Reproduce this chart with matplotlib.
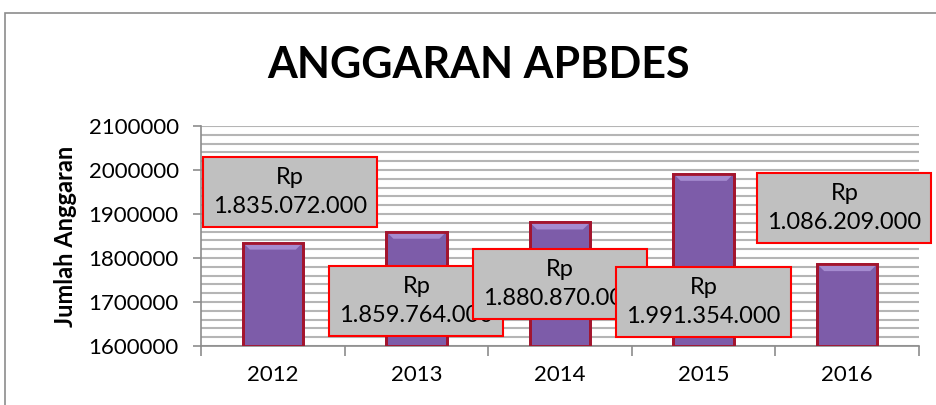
import numpy as np
import matplotlib.pyplot as plt
from matplotlib.patches import Rectangle, Polygon
from matplotlib.ticker import MultipleLocator, FuncFormatter

years = ['2012', '2013', '2014', '2015', '2016']
anggaran = [1835072, 1859764, 1880870, 1991354, 1786209]
labels = ['Rp\n1.835.072.000', 'Rp\n1.859.764.000', 'Rp\n1.880.870.000',
          'Rp\n1.991.354.000', 'Rp\n1.086.209.000']
# where each data label box sits (x in category units, y in data units)
label_pos = [(0.12, 1950000), (1.0, 1702000), (2.0, 1741000),
             (3.0, 1700000), (3.98, 1913600)]

plt.rcParams['font.family'] = ['Lato', 'DejaVu Sans']

fig = plt.figure(figsize=(9.36, 4.05), dpi=100)
ax = fig.add_axes([201/936, 1-346/405, (919-201)/936, (346-126)/405])

# outer chart frame (top and left edges visible)
fig.patches.append(Rectangle((5/936, -0.5), 2, 0.968 + 0.5, transform=fig.transFigure,
                             fill=False, edgecolor='#8c8c8c', lw=1.2))

x = np.arange(len(years))
bw = 0.42
bars = ax.bar(x, anggaran, width=bw, bottom=0, color='#7d5ca9', edgecolor='#a3152e',
              linewidth=2, zorder=3)

# light bevel on top of each bar
bev_x, bev_y = 0.05, 16000
for b in bars:
    x0, x1 = b.get_x(), b.get_x() + b.get_width()
    top = b.get_height()
    ax.add_patch(Polygon([(x0, top), (x1, top), (x1 - bev_x, top - bev_y),
                          (x0 + bev_x, top - bev_y)], closed=True,
                         facecolor='#a58bd0', edgecolor='none', zorder=3.5))
    ax.add_patch(Rectangle((x0, 1600000), b.get_width(), top - 1600000, fill=False,
                           edgecolor='#a3152e', lw=2, zorder=3.6))

ax.set_ylim(1600000, 2100000)
ax.set_xlim(-0.5, len(years) - 0.5)
ax.yaxis.set_major_locator(MultipleLocator(100000))
ax.yaxis.set_minor_locator(MultipleLocator(20000))
ax.yaxis.set_major_formatter(FuncFormatter(lambda v, p: '%d' % v))
ax.grid(axis='y', which='both', color='#b5b5b5', lw=1.5, zorder=0)
ax.set_xticks(x)
ax.set_xticklabels(years)
ax.set_xticks(np.arange(-0.5, len(years)), minor=True)
ax.tick_params(axis='x', which='major', length=0, labelsize=16, pad=14)
ax.tick_params(axis='x', which='minor', length=7, color='#8c8c8c', width=1.2)
ax.tick_params(axis='y', which='major', length=6, color='#8c8c8c', width=1.2,
               labelsize=16, pad=10)
ax.tick_params(axis='y', which='minor', length=0)
for s in ['top', 'right']:
    ax.spines[s].set_visible(False)
for s in ['left', 'bottom']:
    ax.spines[s].set_color('#8c8c8c')
    ax.spines[s].set_linewidth(1.2)

ax.set_ylabel('Jumlah Anggaran', fontsize=17, fontweight='bold', labelpad=8)
fig.text(479/936, 1-65/405, 'ANGGARAN APBDES', fontsize=31, fontweight='bold',
         ha='center', va='center')

for i, (lab, (px, py)) in enumerate(zip(labels, label_pos)):
    ax.text(px, py, lab, fontsize=17, ha='center', va='center', linespacing=1.5,
            zorder=5 + i,
            bbox=dict(boxstyle='square,pad=0.42', facecolor='#c0c0c0',
                      edgecolor='#ff0000', lw=1.5))

fig.savefig('out.png', dpi=100)
